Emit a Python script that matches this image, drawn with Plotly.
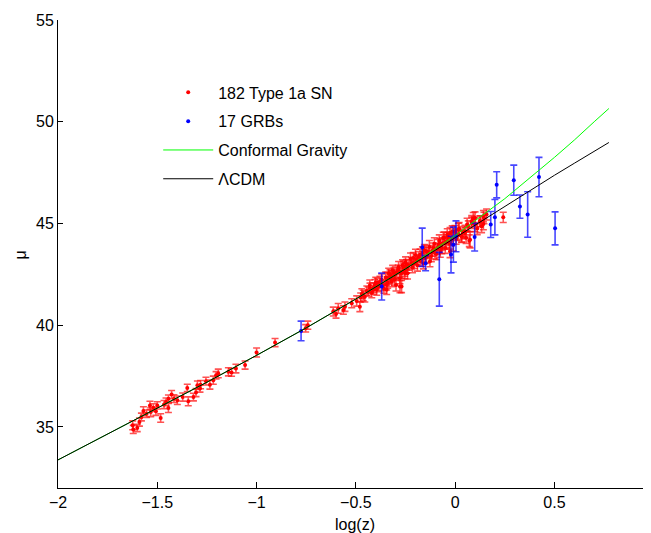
import plotly.graph_objects as go

# ---- Type 1a supernovae (log z, distance modulus, error) ----
sn_logz = [
    -1.621, -1.601, -1.624, -1.590, -1.580, -1.570, -1.554, -1.537, -1.533, -1.520,
    -1.507, -1.500, -1.483, -1.466, -1.456, -1.444, -1.444, -1.428, -1.416, -1.399,
    -1.372, -1.349, -1.344, -1.318, -1.305, -1.298, -1.285, -1.282, -1.255, -1.235,
    -1.218, -1.204, -1.193,
    -1.142, -1.126, -1.104, -1.058, -1.000, -0.907, -0.753, -0.742,
    -0.614, -0.600, -0.589, -0.563, -0.555, -0.521, -0.496, -0.480, -0.476, -0.463,
    -0.438, -0.429, -0.412, -0.404, -0.392, -0.379, -0.359, -0.345, -0.342, -0.328,
    -0.320, -0.308, -0.298, -0.287, -0.278, -0.261, -0.253, -0.245,
    -0.345, -0.328, -0.303, -0.278, -0.270, -0.261, -0.244, -0.219, -0.211, -0.194,
    -0.177, -0.152, -0.144, -0.127, -0.110, -0.102, -0.085, -0.068, -0.051, -0.035,
    -0.018, -0.026, -0.001, 0.016, 0.032, 0.049, 0.071, 0.083, 0.100, 0.125,
    0.142, 0.158,
    -0.077, -0.060, -0.043, -0.026, -0.018, 0.008, 0.016, 0.033, 0.049, 0.066,
    0.075, 0.083, 0.091, 0.100, 0.111, 0.125, 0.133, 0.142, 0.145, 0.242,
    -0.470, -0.455, -0.445, -0.430, -0.420, -0.410, -0.400, -0.395, -0.385, -0.370,
    -0.365, -0.350, -0.340, -0.335, -0.320, -0.315, -0.305, -0.295, -0.285, -0.278,
    -0.270, -0.265, -0.255, -0.250, -0.240, -0.235, -0.225, -0.215, -0.205, -0.200,
    -0.190, -0.185, -0.175, -0.165, -0.160, -0.155, -0.145, -0.135, -0.130, -0.120,
    -0.115, -0.105, -0.095, -0.090, -0.080, -0.075, -0.065, -0.055, -0.050, -0.040,
    -0.030, -0.015, -0.010, 0.005, 0.020, 0.040, 0.055, 0.060,
]
sn_mu = [
    34.88, 34.95, 35.08, 35.24, 35.49, 35.78, 35.65, 36.06, 35.73, 35.95,
    35.77, 36.06, 35.44, 36.10, 36.23, 35.93, 36.39, 36.59, 36.39, 36.31,
    36.47, 36.92, 36.26, 36.47, 36.69, 37.05, 36.89, 37.08, 37.25, 37.08,
    37.30, 37.54, 37.63,
    37.71, 37.68, 37.87, 38.04, 38.66, 39.15, 39.85, 40.00,
    40.67, 40.55, 40.83, 40.75, 40.91, 41.08, 41.19, 40.91, 41.36, 41.46,
    41.65, 41.82, 41.74, 41.98, 42.07, 42.15, 41.82, 41.74, 42.31, 42.48,
    42.15, 42.56, 41.98, 42.72, 42.31, 42.81, 42.56, 42.97,
    41.98, 42.31, 42.48, 42.64, 41.90, 42.89, 42.81, 43.05, 43.30, 43.22,
    43.46, 43.30, 43.63, 43.14, 43.79, 43.55, 43.96, 43.79, 44.04, 44.29,
    44.20, 43.63, 44.62, 44.45, 44.37, 44.53, 44.15, 45.03, 45.27, 45.11,
    45.36, 45.44,
    43.96, 44.29, 44.12, 44.53, 44.29, 44.45, 44.70, 44.37, 44.61, 44.86,
    44.20, 45.11, 45.24, 44.94, 44.75, 45.11, 44.86, 44.98, 45.27, 45.30,
    41.55, 41.40, 41.70, 41.95, 41.60, 41.85, 42.10, 41.75, 41.90, 42.25,
    41.95, 42.35, 42.10, 42.55, 42.40, 42.70, 42.25, 42.60, 42.85, 41.90,
    42.55, 42.95, 42.70, 43.10, 42.55, 42.95, 43.25, 42.85, 43.05, 43.45,
    42.95, 43.35, 43.15, 43.55, 43.05, 43.70, 43.35, 43.55, 43.85, 43.40,
    43.65, 44.00, 43.50, 43.75, 44.15, 43.60, 44.00, 44.30, 43.80, 44.45,
    44.05, 44.60, 43.95, 44.25, 44.75, 44.55, 44.30, 44.95,
]
sn_err = [
    0.20, 0.18, 0.22, 0.20, 0.19, 0.21, 0.18, 0.20, 0.22, 0.19,
    0.20, 0.18, 0.21, 0.20, 0.19, 0.22, 0.18, 0.20, 0.19, 0.21,
    0.20, 0.18, 0.22, 0.19, 0.20, 0.21, 0.18, 0.20, 0.19, 0.22,
    0.20, 0.18, 0.21,
    0.20, 0.19, 0.21, 0.20, 0.22, 0.20, 0.18, 0.20,
    0.22, 0.20, 0.24, 0.21, 0.23, 0.22, 0.25, 0.24, 0.22, 0.26,
    0.23, 0.25, 0.22, 0.27, 0.24, 0.26, 0.25, 0.23, 0.28, 0.24,
    0.26, 0.25, 0.30, 0.24, 0.27, 0.25, 0.28, 0.26,
    0.25, 0.27, 0.24, 0.28, 0.30, 0.26, 0.25, 0.29, 0.27, 0.24,
    0.28, 0.26, 0.30, 0.27, 0.25, 0.29, 0.26, 0.28, 0.30, 0.27,
    0.25, 0.31, 0.28, 0.26, 0.30, 0.27, 0.29, 0.28, 0.30, 0.26,
    0.28, 0.27,
    0.30, 0.28, 0.32, 0.27, 0.30, 0.29, 0.31, 0.28, 0.30, 0.27,
    0.40, 0.28, 0.30, 0.35, 0.30, 0.27, 0.31, 0.29, 0.28, 0.25,
    0.24, 0.26, 0.23, 0.27, 0.25, 0.24, 0.26, 0.28, 0.25, 0.27,
    0.24, 0.26, 0.28, 0.25, 0.27, 0.24, 0.29, 0.26, 0.28, 0.30,
    0.25, 0.27, 0.29, 0.26, 0.28, 0.25, 0.30, 0.27, 0.26, 0.28,
    0.29, 0.27, 0.25, 0.30, 0.28, 0.26, 0.29, 0.27, 0.31, 0.28,
    0.26, 0.30, 0.28, 0.27, 0.29, 0.26, 0.30, 0.28, 0.27, 0.29,
    0.31, 0.28, 0.30, 0.27, 0.29, 0.30, 0.28, 0.31,
]

# ---- Gamma-ray bursts ----
grb_logz = [-0.776, -0.370, -0.166, -0.149, -0.080, -0.021, -0.009, 0.004, 0.098,
            0.179, 0.200, 0.209, 0.295, 0.326, 0.365, 0.422, 0.503]
grb_mu = [39.72, 41.90, 43.83, 43.05, 42.26, 43.47, 43.96, 44.37, 44.33,
          44.95, 45.31, 46.90, 47.13, 45.83, 45.44, 47.28, 44.76]
grb_err = [0.48, 0.66, 0.94, 0.37, 1.32, 0.90, 0.86, 0.76, 0.68,
           0.64, 0.87, 0.64, 0.74, 0.57, 1.12, 0.97, 0.81]

# ---- Model curves ----
curve_logz = [-2.0, -1.75, -1.5, -1.25, -1.0, -0.75, -0.5, -0.25, 0.0, 0.25, 0.5, 0.6, 0.7, 0.774]
lcdm_mu = [33.38, 34.64, 35.91, 37.20, 38.52, 39.87, 41.29, 42.77, 44.30, 45.85, 47.37, 47.96, 48.56, 48.98]
cg_mu = [33.38, 34.64, 35.91, 37.20, 38.52, 39.87, 41.29, 42.78, 44.41, 46.22, 48.25, 49.10, 50.00, 50.65]

x_ticks = [-2, -1.5, -1, -0.5, 0, 0.5]
x_tick_text = ["−2", "−1.5", "−1", "−0.5", "0", "0.5"]
y_ticks = [35, 40, 45, 50, 55]

FONT = "Liberation Sans, Arial, Helvetica, sans-serif"

fig = go.Figure()
fig.add_trace(go.Scatter(
    x=sn_logz, y=sn_mu, mode="markers", name="182 Type 1a SN",
    legendgroup="a",
    marker=dict(color="#ff0000", size=4),
    error_y=dict(type="data", array=sn_err, color="rgba(255,0,0,0.68)",
                 thickness=1.6, width=3.5),
))
fig.add_trace(go.Scatter(
    x=grb_logz, y=grb_mu, mode="markers", name="17 GRBs",
    legendgroup="b",
    marker=dict(color="#0000ff", size=4),
    error_y=dict(type="data", array=grb_err, color="rgba(0,0,255,0.72)",
                 thickness=1.6, width=3.5),
))
fig.add_trace(go.Scatter(
    x=curve_logz, y=cg_mu, mode="lines", name="Conformal Gravity",
    legendgroup="c",
    line=dict(color="#00ff00", width=1),
))
fig.add_trace(go.Scatter(
    x=curve_logz, y=lcdm_mu, mode="lines", name="ΛCDM",
    legendgroup="d",
    line=dict(color="#000000", width=1),
))

fig.update_layout(
    width=643, height=525,
    margin=dict(l=50, r=0, t=11.5, b=45, autoexpand=False),
    paper_bgcolor="white", plot_bgcolor="white",
    font=dict(family=FONT, size=16, color="black"),
    showlegend=True,
    legend=dict(
        x=0.169, y=0.8815, xanchor="left", yanchor="top",
        bgcolor="rgba(0,0,0,0)", borderwidth=0,
        traceorder="grouped", tracegroupgap=5,
        font=dict(family=FONT, size=16, color="black"),
        itemwidth=50,
    ),
    xaxis=dict(
        range=[-2, 0.986], tickvals=x_ticks, ticktext=x_tick_text,
        ticks="inside", ticklen=6, tickcolor="black", tickwidth=1,
        showline=True, linecolor="black", linewidth=1, mirror=False,
        showgrid=False, zeroline=False, automargin=False,
        tickfont=dict(size=16),
    ),
    yaxis=dict(
        range=[32, 55], tickvals=y_ticks,
        ticks="inside", ticklen=5, tickcolor="black", tickwidth=1,
        showline=True, linecolor="black", linewidth=1, mirror=False,
        showgrid=False, zeroline=False, automargin=False,
        tickfont=dict(size=16),
    ),
    annotations=[
        dict(text="log(z)", xref="paper", yref="paper", x=0.5, y=-0.077,
             xanchor="center", yanchor="middle", showarrow=False,
             font=dict(family=FONT, size=16, color="black")),
        dict(text="μ", xref="paper", yref="paper", x=-0.064, y=0.497,
             xanchor="center", yanchor="middle", showarrow=False, textangle=-90,
             font=dict(family=FONT, size=16, color="black")),
    ],
)

fig.write_html("out.html")
